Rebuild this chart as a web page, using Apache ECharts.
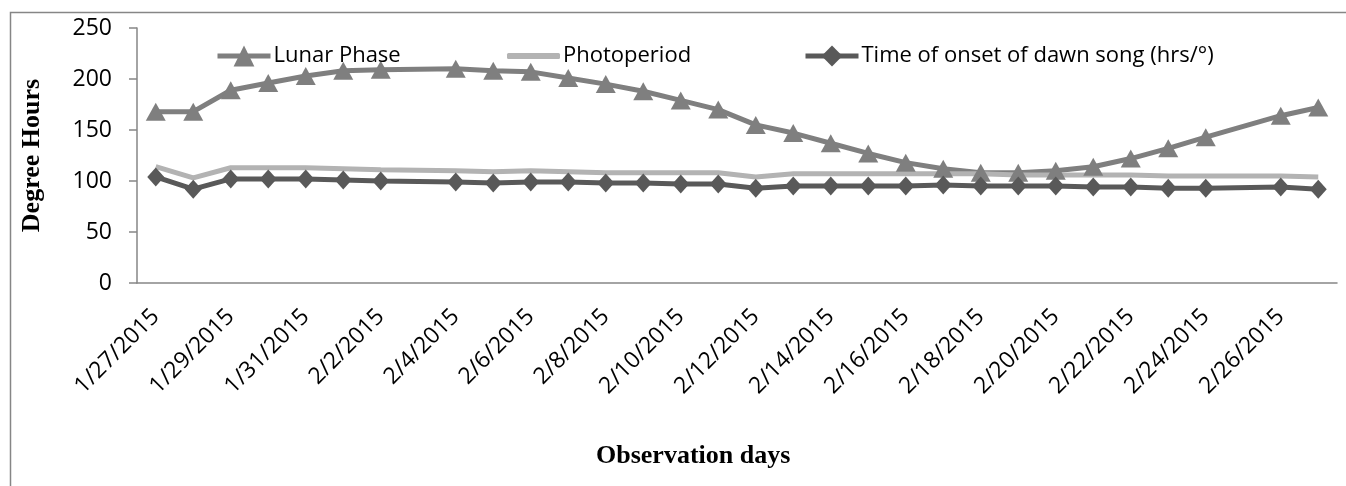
<!DOCTYPE html>
<html>
<head>
<meta charset="utf-8">
<script src="https://cdn.jsdelivr.net/npm/echarts@6/dist/echarts.min.js"></script>
<style>
  html, body { margin: 0; padding: 0; background: #fff; }
  #chart { width: 1346px; height: 486px; }
</style>
</head>
<body>
<div id="chart"></div>
<script>
// observation days (one category per day, labels every 2nd day)
const days = [
  '1/27/2015', '1/28/2015', '1/29/2015', '1/30/2015', '1/31/2015',
  '2/1/2015', '2/2/2015', '2/3/2015', '2/4/2015', '2/5/2015', '2/6/2015',
  '2/7/2015', '2/8/2015', '2/9/2015', '2/10/2015', '2/11/2015', '2/12/2015',
  '2/13/2015', '2/14/2015', '2/15/2015', '2/16/2015', '2/17/2015', '2/18/2015',
  '2/19/2015', '2/20/2015', '2/21/2015', '2/22/2015', '2/23/2015', '2/24/2015',
  '2/25/2015', '2/26/2015', '2/27/2015'
]
const seriesNames = ['Lunar Phase', 'Photoperiod', 'Time of onset of dawn song (hrs/°)']

// no observation on 2/3 and 2/25
const lunarPhase = [168, 168, 189, 196, 203, 208, 209, null, 210, 208, 207, 201, 195, 188, 179, 170,
  155, 147, 137, 127, 118, 112, 108, 108, 110, 114, 122, 132, 143, null, 164, 172]
const photoperiod = [114, 103, 113, 113, 113, 112, 111, null, 110, 109, 110, 109, 108, 108, 108, 108,
  104, 107, 107, 107, 107, 107, 107, 106, 106, 106, 106, 105, 105, null, 105, 104]
const dawnSong = [104, 92, 102, 102, 102, 101, 100, null, 99, 98, 99, 99, 98, 98, 97, 97,
  93, 95, 95, 95, 95, 96, 95, 95, 95, 94, 94, 93, 93, null, 94, 92]

const yTicks = { min: 0, max: 250, interval: 50 }

const labelFont = '"Open Sans", "Noto Sans", sans-serif'
const titleFont = '"Liberation Serif", "DejaVu Serif", serif'

const chart = echarts.init(document.getElementById('chart'))

function legendAt(name, left, extra) {
  return Object.assign({
    data: [name],
    left: left,
    top: 40,
    itemWidth: 53,
    itemHeight: 26,
    itemGap: 0,
    lineStyle: { width: 5 },
    textStyle: { fontFamily: labelFont, fontSize: 22, color: '#000', padding: [0, 0, 0, -2] }
  }, extra || {})
}

const option = {
  animation: false,
  backgroundColor: '#fff',
  legend: [
    legendAt(seriesNames[0], 210),
    legendAt(seriesNames[1], 502, {
      data: [{ name: seriesNames[1], icon: 'roundRect' }],
      itemHeight: 6
    }),
    legendAt(seriesNames[2], 798)
  ],
  grid: {
    left: 137,
    right: 9,
    top: 28,
    bottom: 203
  },
  xAxis: {
    type: 'category',
    data: days,
    boundaryGap: true,
    axisLine: { lineStyle: { color: '#868686', width: 1.5 } },
    axisTick: { interval: 1, length: 8, lineStyle: { color: '#868686', width: 1.5 } },
    axisLabel: {
      interval: 1,
      rotate: 45,
      margin: 30,
      color: '#000',
      fontFamily: labelFont,
      fontSize: 23
    },
    splitLine: { show: false }
  },
  yAxis: {
    type: 'value',
    min: yTicks.min,
    max: yTicks.max,
    interval: yTicks.interval,
    name: 'Degree Hours',
    nameLocation: 'middle',
    nameRotate: 90,
    nameGap: 92,
    nameTextStyle: { fontFamily: titleFont, fontWeight: 'bold', fontSize: 26, color: '#000' },
    axisLine: { show: true, lineStyle: { color: '#868686', width: 1.5 } },
    axisTick: { show: true, length: 8, lineStyle: { color: '#868686', width: 1.5 } },
    axisLabel: { margin: 25, color: '#000', fontFamily: labelFont, fontSize: 23 },
    splitLine: { show: false }
  },
  graphic: [
    {
      type: 'rect',
      silent: true,
      shape: { x: 10.5, y: 12.5, width: 1400, height: 600 },
      style: { fill: 'none', stroke: '#868686', lineWidth: 1.5 }
    },
    {
      type: 'text',
      left: 596,
      top: 443,
      silent: true,
      style: {
        text: 'Observation days',
        font: 'bold 26px ' + titleFont,
        fill: '#000'
      }
    }
  ],
  series: [
    {
      name: seriesNames[0],
      type: 'line',
      data: lunarPhase,
      connectNulls: true,
      symbol: 'triangle',
      symbolSize: [20, 18],
      itemStyle: { color: '#7f7f7f' },
      lineStyle: { color: '#7f7f7f', width: 5 }
    },
    {
      name: seriesNames[1],
      type: 'line',
      data: photoperiod,
      connectNulls: true,
      showSymbol: false,
      symbol: 'none',
      itemStyle: { color: '#b3b3b3' },
      lineStyle: { color: '#b3b3b3', width: 5 }
    },
    {
      name: seriesNames[2],
      type: 'line',
      data: dawnSong,
      connectNulls: true,
      symbol: 'diamond',
      symbolSize: [17, 19],
      itemStyle: { color: '#595959' },
      lineStyle: { color: '#595959', width: 5 }
    }
  ]
}

chart.setOption(option)
</script>
</body>
</html>
